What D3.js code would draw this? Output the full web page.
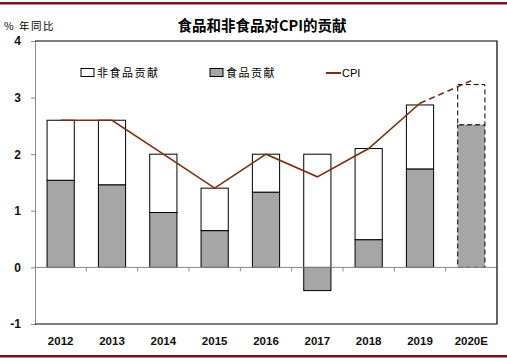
<!DOCTYPE html>
<html>
<head>
<meta charset="utf-8">
<script src="https://cdn.jsdelivr.net/npm/d3@7"></script>
<style>
  body { margin: 0; background: #fff; }
  svg { display: block; }
</style>
</head>
<body>
<svg id="chart" width="507" height="362"></svg>
<script>
// data
const years = ["2012", "2013", "2014", "2015", "2016", "2017", "2018", "2019", "2020E"];
const food = [1.54, 1.46, 0.97, 0.65, 1.33, -0.41, 0.49, 1.74, 2.52];
const nonFood = [1.06, 1.14, 1.03, 0.75, 0.67, 2.0, 1.61, 1.13, 0.71];
const cpi = [2.6, 2.6, 2.0, 1.4, 2.0, 1.6, 2.1, 2.9, 3.3];
const yTicks = [-1, 0, 1, 2, 3, 4];

const svg = d3.select("#chart");
const W = +svg.attr("width"), H = +svg.attr("height");
const margin = { left: 35, right: 10, top: 41, bottom: 38 };
const FONT = "'Liberation Sans', Arial, sans-serif";
const CJK = "'Noto Sans CJK SC', sans-serif";
const lineColor = "#7f2b12";

// page rules top and bottom
svg.append("rect").attr("x", 0).attr("y", 2).attr("width", W).attr("height", 2.5).attr("fill", "#6e1616");
svg.append("rect").attr("x", 0).attr("y", 355).attr("width", W).attr("height", 2.5).attr("fill", "#6e1616");

const x = d3.scaleBand()
  .domain(years)
  .range([margin.left, W - margin.right])
  .paddingInner(0.47)
  .paddingOuter(0.235);

const y = d3.scaleLinear()
  .domain([-1, 4])
  .range([H - margin.bottom, margin.top]);

// title
svg.append("text")
  .attr("x", 262).attr("y", 31)
  .attr("text-anchor", "middle")
  .attr("font-family", CJK)
  .attr("font-weight", "bold")
  .attr("font-size", 14.5)
  .text("食品和非食品对CPI的贡献");

svg.append("text")
  .attr("x", 4).attr("y", 30)
  .attr("font-family", CJK)
  .attr("font-size", 10.5)
  .attr("letter-spacing", 1.5)
  .text("% 年同比");

// bars
const bars = svg.append("g");
years.forEach((yr, i) => {
  const isEst = yr.endsWith("E");
  const dash = isEst ? "5,3" : null;
  // food part
  const f0 = Math.min(0, food[i]), f1 = Math.max(0, food[i]);
  bars.append("rect")
    .attr("x", x(yr)).attr("width", x.bandwidth())
    .attr("y", y(f1)).attr("height", y(f0) - y(f1))
    .attr("fill", "#a6a6a6").attr("stroke", "#000").attr("stroke-width", 1)
    .attr("stroke-dasharray", dash);
  // non-food part stacked on positive side
  const base = Math.max(0, food[i]);
  bars.append("rect")
    .attr("x", x(yr)).attr("width", x.bandwidth())
    .attr("y", y(base + nonFood[i])).attr("height", y(base) - y(base + nonFood[i]))
    .attr("fill", "#fff").attr("stroke", "#000").attr("stroke-width", 1)
    .attr("stroke-dasharray", dash);
});

// axes
const yAxis = svg.append("g")
  .attr("transform", `translate(${margin.left},0)`)
  .call(d3.axisLeft(y).tickValues(yTicks).tickSize(4).tickFormat(d => String(d)));
yAxis.select(".domain").attr("stroke", "#888");
yAxis.selectAll(".tick line").attr("stroke", "#888");
yAxis.selectAll("text")
  .attr("font-family", FONT).attr("font-size", 12).attr("font-weight", "bold")
  .attr("fill", "#111").attr("x", -14);

// zero line with ticks at category boundaries
const zero = svg.append("g");
zero.append("line")
  .attr("x1", margin.left).attr("x2", W - margin.right)
  .attr("y1", y(0)).attr("y2", y(0))
  .attr("stroke", "#888");
const step = x.step();
years.slice(1).forEach((yr, i) => {
  const bx = margin.left + step * (i + 1);
  zero.append("line")
    .attr("x1", bx).attr("x2", bx)
    .attr("y1", y(0)).attr("y2", y(0) + 4)
    .attr("stroke", "#888");
});

// plot frame top / right / bottom
svg.append("path")
  .attr("d", `M${margin.left},${y(4)}H${W - margin.right}V${y(-1)}H${margin.left}`)
  .attr("fill", "none").attr("stroke", "#000").attr("stroke-width", 1.2);

// x labels
svg.append("g").selectAll("text")
  .data(years).enter().append("text")
  .attr("x", d => x(d) + x.bandwidth() / 2)
  .attr("y", 345)
  .attr("text-anchor", "middle")
  .attr("font-family", FONT).attr("font-size", 11.5).attr("font-weight", "bold")
  .attr("fill", "#111")
  .text(d => d);

// CPI line, solid to 2019 then dashed
const line = d3.line()
  .x(d => x(d.yr) + x.bandwidth() / 2)
  .y(d => y(d.v));
const pts = years.map((yr, i) => ({ yr, v: cpi[i] }));
const estStart = years.length - 2;
svg.append("path")
  .attr("d", line(pts.slice(0, estStart + 1)))
  .attr("fill", "none").attr("stroke", lineColor).attr("stroke-width", 1.6);
svg.append("path")
  .attr("d", line(pts.slice(estStart)))
  .attr("fill", "none").attr("stroke", lineColor).attr("stroke-width", 1.6)
  .attr("stroke-dasharray", "6,4");

// legend
const lg = svg.append("g").attr("font-family", CJK).attr("font-size", 11).attr("letter-spacing", 1.5);
lg.append("rect").attr("x", 81).attr("y", 68.5).attr("width", 13).attr("height", 8)
  .attr("fill", "#fff").attr("stroke", "#000");
lg.append("text").attr("x", 97).attr("y", 77).text("非食品贡献");
lg.append("rect").attr("x", 210).attr("y", 68.5).attr("width", 13).attr("height", 8)
  .attr("fill", "#a6a6a6").attr("stroke", "#000");
lg.append("text").attr("x", 226).attr("y", 77).text("食品贡献");
lg.append("line").attr("x1", 326).attr("x2", 341).attr("y1", 73).attr("y2", 73)
  .attr("stroke", lineColor).attr("stroke-width", 2);
lg.append("text").attr("x", 342).attr("y", 77).attr("letter-spacing", 0)
  .attr("font-family", FONT).text("CPI");
</script>
</body>
</html>
